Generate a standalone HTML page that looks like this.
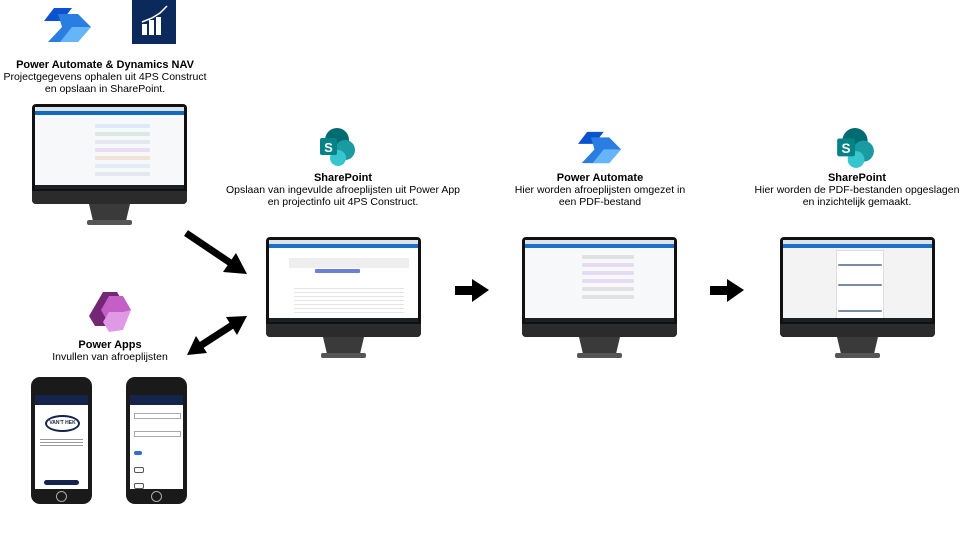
<!DOCTYPE html>
<html><head><meta charset="utf-8"><style>
body{margin:0;width:969px;height:537px;background:#fff;position:relative;overflow:hidden;font-family:"Liberation Sans",Arial,sans-serif;color:#000}
.a{position:absolute}
.t{position:absolute;text-align:center;font-size:10.5px;line-height:12px;white-space:nowrap;transform:translateX(-50%)}
.t b{font-size:11px}
.mon{position:absolute;width:155px;height:122px}
.bez{position:absolute;left:0;top:0;width:155px;height:100px;background:#111;border-radius:4px}
.chin{position:absolute;left:0;top:87px;width:155px;height:13px;background:#2b2b2b;border-radius:0 0 4px 4px}
.scr{position:absolute;left:3px;top:3px;width:149px;height:82px;background:#f7f8fa;overflow:hidden}
.task{position:absolute;left:0;bottom:0;width:149px;height:4px;background:#1d1f27}
.top{position:absolute;left:0;top:0;width:149px;height:4px;background:#dde3ea}
.bar{position:absolute;left:0;top:4px;width:149px;height:4px;background:#1e6fc8}
.stand{position:absolute;left:57px;top:100px;height:0;border-left:4px solid transparent;border-right:4px solid transparent;border-top:17px solid #3a3a3a;width:33px}
.base{position:absolute;left:55px;top:116px;width:45px;height:5px;background:#555;border-radius:2px}
.row{position:absolute;height:4px;border-radius:1px}
.phone{position:absolute;width:61px;height:127px;background:#1a1a1a;border-radius:9px}
.ps{position:absolute;left:4px;top:18px;width:53px;height:94px;background:#fff}
.home{position:absolute;left:25px;top:114px;width:9px;height:9px;border:1px solid #aaa;border-radius:50%}
</style></head><body>

<svg class="a" style="left:44px;top:8px" width="48" height="34" viewBox="0 0 48 34">
<polygon points="10,0 28,0 18,13 0,13" fill="#0b53ce"/>
<polygon points="14,6 34,6 47,19 34,34 4,34 18,19" fill="#2a7de1"/>
<polygon points="28,19 47,19 34,34 16,34" fill="#66b5f8"/>
</svg>
<div class="a" style="left:132px;top:0;width:44px;height:44px;background:#0b2a5b"></div>
<svg class="a" style="left:132px;top:0" width="44" height="44" viewBox="0 0 44 44">
<rect x="10" y="24" width="5" height="11" fill="#fff"/><rect x="17" y="20" width="5" height="15" fill="#fff"/><rect x="24" y="17" width="5" height="18" fill="#fff"/>
<polyline points="10,22 20,18 28,13 35,6" stroke="#fff" stroke-width="1.5" fill="none"/>
</svg>
<div class="t" style="left:105px;top:59px"><b>Power Automate &amp; Dynamics NAV</b><br>Projectgegevens ophalen uit 4PS Construct<br>en opslaan in SharePoint.</div>

<svg class="a" style="left:317px;top:127px" width="40" height="40" viewBox="0 0 40 40">
<circle cx="20" cy="13" r="12" fill="#036c70"/><circle cx="28" cy="23" r="10" fill="#1a9ba1"/><circle cx="21" cy="31" r="8" fill="#37c6d0"/>
<rect x="3" y="11" width="17" height="17" rx="2" fill="#038387"/><text x="11.5" y="25" font-size="13" font-weight="bold" fill="#fff" text-anchor="middle" font-family="Liberation Sans">S</text>
</svg>
<svg class="a" style="left:832px;top:127px" width="46" height="42" viewBox="0 0 40 40">
<circle cx="20" cy="13" r="12" fill="#036c70"/><circle cx="28" cy="23" r="10" fill="#1a9ba1"/><circle cx="21" cy="31" r="8" fill="#37c6d0"/>
<rect x="3" y="11" width="17" height="17" rx="2" fill="#038387"/><text x="11.5" y="25" font-size="13" font-weight="bold" fill="#fff" text-anchor="middle" font-family="Liberation Sans">S</text>
</svg>
<svg class="a" style="left:578px;top:131px" width="44" height="33" viewBox="0 0 48 34">
<polygon points="10,0 28,0 18,13 0,13" fill="#0b53ce"/>
<polygon points="14,6 34,6 47,19 34,34 4,34 18,19" fill="#2a7de1"/>
<polygon points="28,19 47,19 34,34 16,34" fill="#66b5f8"/>
</svg>
<svg class="a" style="left:87px;top:292px" width="46" height="42" viewBox="0 0 46 42">
<polygon points="16,0 30,0 36,10 22,34 8,34 2,24" fill="#742774"/>
<polygon points="22,4 36,4 44,18 36,32 22,32 14,18" fill="#c35fc7"/>
<polygon points="22,20 36,20 44,18 36,38 22,40 16,30" fill="#e09ae5"/>
</svg>

<div class="t" style="left:343px;top:172px"><b>SharePoint</b><br>Opslaan van ingevulde afroeplijsten uit Power App<br>en projectinfo uit 4PS Construct.</div>
<div class="t" style="left:600px;top:172px"><b>Power Automate</b><br>Hier worden afroeplijsten omgezet in<br>een PDF-bestand</div>
<div class="t" style="left:857px;top:172px"><b>SharePoint</b><br>Hier worden de PDF-bestanden opgeslagen<br>en inzichtelijk gemaakt.</div>
<div class="t" style="left:110px;top:339px"><b>Power Apps</b><br>Invullen van afroeplijsten</div>

<div class="mon" style="left:32px;top:104px">
<div class="bez"></div><div class="chin"></div>
<div class="scr"><div class="top"></div><div class="bar" style="background:#0f6cbd"></div>
<div class="row" style="left:60px;top:17px;width:55px;background:#dde9f7"></div>
<div class="row" style="left:60px;top:25px;width:55px;background:#dbe9e4"></div>
<div class="row" style="left:60px;top:33px;width:55px;background:#e3e8ee"></div>
<div class="row" style="left:60px;top:41px;width:55px;background:#eadcf3"></div>
<div class="row" style="left:60px;top:49px;width:55px;background:#f3e3d7"></div>
<div class="row" style="left:60px;top:57px;width:55px;background:#e2ecf7"></div>
<div class="row" style="left:60px;top:65px;width:55px;background:#e3e8ee"></div>
<div class="task"></div></div>
<div class="stand"></div><div class="base"></div></div>

<div class="mon" style="left:266px;top:237px">
<div class="bez"></div><div class="chin"></div>
<div class="scr" style="background:#fff"><div class="top"></div><div class="bar"></div>
<div class="a" style="left:20px;top:18px;width:120px;height:10px;background:#eee"></div>
<div class="row" style="left:46px;top:29px;width:45px;background:#6b7fd8"></div>
<div class="row" style="left:25px;top:45px;width:110px;height:30px;background:repeating-linear-gradient(#fff 0 3px,#e5e5e5 3px 4px)"></div>
<div class="task"></div></div>
<div class="stand"></div><div class="base"></div></div>

<div class="mon" style="left:522px;top:237px">
<div class="bez"></div><div class="chin"></div>
<div class="scr"><div class="top"></div><div class="bar"></div>
<div class="row" style="left:57px;top:15px;width:52px;background:#dde3e2"></div>
<div class="row" style="left:57px;top:23px;width:52px;background:#e6dbf3"></div>
<div class="row" style="left:57px;top:31px;width:52px;background:#e6dbf3"></div>
<div class="row" style="left:57px;top:39px;width:52px;background:#e6dbf3"></div>
<div class="row" style="left:57px;top:47px;width:52px;background:#e2e2e2"></div>
<div class="row" style="left:57px;top:55px;width:52px;background:#e2e2e2"></div>
<div class="task"></div></div>
<div class="stand"></div><div class="base"></div></div>

<div class="mon" style="left:780px;top:237px">
<div class="bez"></div><div class="chin"></div>
<div class="scr" style="background:#f3f3f3"><div class="top"></div><div class="bar"></div>
<div class="a" style="left:53px;top:10px;width:46px;height:70px;background:#fff;border:1px solid #ddd"></div>
<div class="row" style="left:55px;top:24px;width:44px;height:2px;background:#7a8aa6"></div>
<div class="row" style="left:55px;top:44px;width:44px;height:2px;background:#7a8aa6"></div>
<div class="row" style="left:55px;top:70px;width:44px;height:2px;background:#7a8aa6"></div>
<div class="task"></div></div>
<div class="stand"></div><div class="base"></div></div>

<svg class="a" style="left:0;top:0" width="969" height="537">
<line x1="186" y1="233" x2="232" y2="264" stroke="#000" stroke-width="7"/>
<polygon points="247,274 223,272 236,253" fill="#000"/>
<line x1="200" y1="346" x2="234" y2="324" stroke="#000" stroke-width="7"/>
<polygon points="247,316 237,335 226,317" fill="#000"/>
<polygon points="187,355 196,336 207,353" fill="#000"/>
<rect x="455" y="286" width="18" height="9" fill="#000"/>
<polygon points="472,279 489,290 472,302" fill="#000"/>
<rect x="710" y="286" width="18" height="9" fill="#000"/>
<polygon points="727,279 744,290 727,302" fill="#000"/>
</svg>

<div class="phone" style="left:31px;top:377px"><div class="ps">
<div class="a" style="left:0;top:0;width:53px;height:10px;background:#14244a"></div>
<div class="a" style="left:10px;top:20px;width:31px;height:13px;border:2px solid #14244a;border-radius:50%;font-size:5px;font-weight:bold;text-align:center;line-height:13px;color:#14244a;white-space:nowrap">VAN'T HEK</div>
<div class="a" style="left:5px;top:42px;width:43px;height:10px;background:repeating-linear-gradient(#fff 0 2px,#999 2px 3px)"></div>
<div class="a" style="left:9px;top:85px;width:35px;height:5px;background:#14244a;border-radius:3px"></div>
</div><div class="home"></div></div>
<div class="phone" style="left:126px;top:377px"><div class="ps">
<div class="a" style="left:0;top:0;width:53px;height:10px;background:#14244a"></div>
<div class="a" style="left:4px;top:18px;width:45px;height:4px;border:1px solid #aaa"></div>
<div class="a" style="left:4px;top:36px;width:45px;height:4px;border:1px solid #aaa"></div>
<div class="a" style="left:4px;top:56px;width:8px;height:4px;background:#2a6fd1;border-radius:2px"></div>
<div class="a" style="left:4px;top:72px;width:8px;height:4px;border:1px solid #555;border-radius:2px"></div>
<div class="a" style="left:4px;top:88px;width:8px;height:4px;border:1px solid #555;border-radius:2px"></div>
</div><div class="home"></div></div>
</body></html>
